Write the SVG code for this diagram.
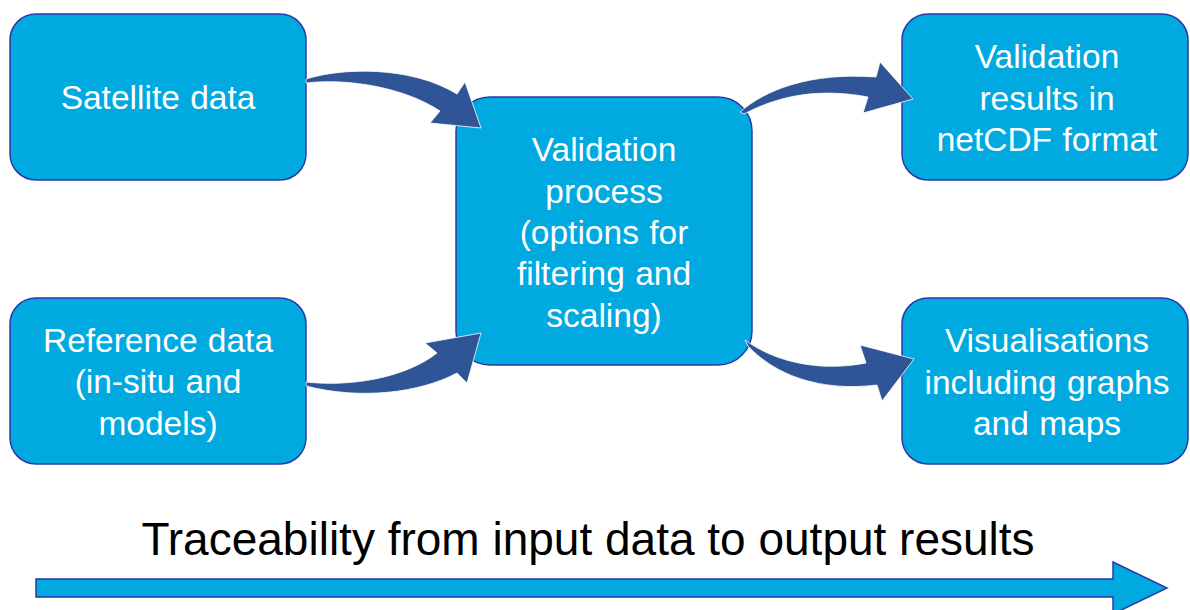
<svg xmlns="http://www.w3.org/2000/svg" width="1190" height="610" viewBox="0 0 1190 610">
<style>
.box{fill:#00A9E0;stroke:#2A3AA8;stroke-width:1.5}
.t{font-family:"Liberation Sans",Arial,sans-serif;font-size:33.5px;word-spacing:1px;fill:#fff;text-anchor:middle}
.arr{fill:#2F5597;stroke:#fff;stroke-width:0.8;stroke-linejoin:miter}
.title{font-family:"Liberation Sans",Arial,sans-serif;font-size:46px;fill:#000;text-anchor:middle}
</style>
<rect width="1190" height="610" fill="#fff"/>
<g id="satellite">
<rect class="box" x="10" y="14" width="296" height="166" rx="26"/>
<text class="t" x="158" y="109">Satellite data</text>
</g>
<g id="reference">
<rect class="box" x="10" y="298" width="296" height="166" rx="26"/>
<text class="t" x="158" y="352">Reference data</text>
<text class="t" x="158" y="393">(in-situ and</text>
<text class="t" x="158" y="435">models)</text>
</g>
<g id="validation">
<rect class="box" x="456" y="97" width="296" height="268" rx="34"/>
<text class="t" x="604" y="161">Validation</text>
<text class="t" x="604" y="203">process</text>
<text class="t" x="604" y="244">(options for</text>
<text class="t" x="604" y="285">filtering and</text>
<text class="t" x="604" y="327">scaling)</text>
</g>
<g id="results">
<rect class="box" x="902" y="14" width="286" height="166" rx="26"/>
<text class="t" x="1047" y="68">Validation</text>
<text class="t" x="1047" y="110">results in</text>
<text class="t" x="1047" y="151">netCDF format</text>
</g>
<g id="visualisations">
<rect class="box" x="902" y="298" width="286" height="166" rx="26"/>
<text class="t" x="1047" y="352">Visualisations</text>
<text class="t" x="1047" y="394">including graphs</text>
<text class="t" x="1047" y="435">and maps</text>
</g>
<g id="connectors">
<path class="arr" d="M306,79 C340,68 410,65 457,94 L465,82 L481,128 L430,123 L440,111 C405,88 350,78 306,83 Z"/>
<path class="arr" d="M306,382 C350,387 405,378 437,353 L425,343 L481,333 L467,383 L457,373 C420,393 360,400 306,386 Z"/>
<path class="arr" d="M740,112 C765,90 810,72 876,77 L880,62 L913,99 L863,113 L868,97 C820,88 780,95 744,114 Z"/>
<path class="arr" d="M745,340 C775,362 820,372 866,363 L860,345 L914,359 L882,401 L877,385 C820,392 775,375 748,346 Z"/>
</g>
<g id="traceability">
<text class="title" x="588" y="555">Traceability from input data to output results</text>
<path d="M36,579 L1113,579 L1113,562 L1167,588 L1113,614 L1113,597 L36,597 Z" fill="#00A9E0" stroke="#2A3AA8" stroke-width="1.5"/>
</g>
</svg>
